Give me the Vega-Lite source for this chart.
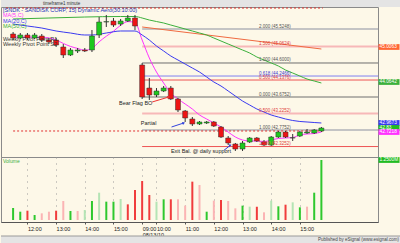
{
"$schema":"https://vega.github.io/schema/vega-lite/v6.json",
"background":"#fdf8e8",
"padding":0,
"spacing":0,
"bounds":"flush",
"resolve":{"scale":{"color":"independent","fill":"independent","stroke":"independent"}},
"config":{
 "font":"Liberation Sans",
 "view":{"stroke":null},
 "axis":{"labelFont":"Liberation Sans","labelColor":"#222","labelFontSize":5.5,"domainColor":"#555","tickColor":"#555","gridColor":"#9a9a9a","gridDash":[1,5],"gridWidth":1,"title":null}
},
"datasets":{
 "bars":[
  {"i":0,"time":"08/12 11:30","open":45.392,"high":45.446,"low":45.228,"close":45.283,"volume":250000,"tone":"up"},
  {"i":1,"time":"08/12 11:45","open":45.283,"high":45.419,"low":45.256,"close":45.365,"volume":173000,"tone":"up"},
  {"i":2,"time":"08/12 12:00","open":45.365,"high":45.419,"low":45.228,"close":45.283,"volume":194000,"tone":"down"},
  {"i":3,"time":"08/12 12:15","open":45.283,"high":45.419,"low":45.256,"close":45.365,"volume":104000,"tone":"up"},
  {"i":4,"time":"08/12 12:30","open":45.337,"high":45.392,"low":45.174,"close":45.228,"volume":139000,"tone":"down-light"},
  {"i":5,"time":"08/12 12:45","open":45.228,"high":45.283,"low":45.119,"close":45.174,"volume":173000,"tone":"down-light"},
  {"i":6,"time":"08/12 13:00","open":45.228,"high":45.283,"low":45.038,"close":45.092,"volume":194000,"tone":"down"},
  {"i":7,"time":"08/12 13:15","open":45.038,"high":45.119,"low":44.738,"close":44.820,"volume":396000,"tone":"down-light"},
  {"i":8,"time":"08/12 13:30","open":44.820,"high":45.010,"low":44.792,"close":44.956,"volume":188000,"tone":"up"},
  {"i":9,"time":"08/12 13:45","open":44.929,"high":45.010,"low":44.874,"close":44.956,"volume":188000,"tone":"down-light"},
  {"i":10,"time":"08/12 14:00","open":44.956,"high":45.010,"low":44.901,"close":44.929,"volume":208000,"tone":"up-light"},
  {"i":11,"time":"08/12 14:15","open":44.956,"high":45.501,"low":44.901,"close":45.337,"volume":396000,"tone":"up"},
  {"i":12,"time":"08/12 14:30","open":45.365,"high":45.855,"low":45.283,"close":45.719,"volume":569000,"tone":"up-light"},
  {"i":13,"time":"08/12 14:45","open":45.719,"high":45.910,"low":45.583,"close":45.729,"volume":382000,"tone":"up"},
  {"i":14,"time":"08/12 15:00","open":45.746,"high":45.828,"low":45.583,"close":45.637,"volume":382000,"tone":"up"},
  {"i":15,"time":"08/12 15:15","open":45.664,"high":45.801,"low":45.610,"close":45.746,"volume":438000,"tone":"up-light"},
  {"i":16,"time":"08/12 15:30","open":45.746,"high":45.910,"low":45.719,"close":45.828,"volume":326000,"tone":"down"},
  {"i":17,"time":"08/12 15:45","open":45.828,"high":45.910,"low":45.501,"close":45.610,"volume":625000,"tone":"down"},
  {"i":18,"time":"08/13 09:30","open":44.547,"high":44.602,"low":43.621,"close":43.675,"volume":812000,"tone":"down"},
  {"i":19,"time":"08/13 09:45","open":43.920,"high":44.193,"low":43.594,"close":43.730,"volume":521000,"tone":"down"},
  {"i":20,"time":"08/13 10:00","open":43.730,"high":43.920,"low":43.675,"close":43.839,"volume":382000,"tone":"up-light"},
  {"i":21,"time":"08/13 10:15","open":43.839,"high":43.975,"low":43.811,"close":43.920,"volume":431000,"tone":"up"},
  {"i":22,"time":"08/13 10:30","open":43.920,"high":43.975,"low":43.594,"close":43.621,"volume":431000,"tone":"down"},
  {"i":23,"time":"08/13 10:45","open":43.621,"high":43.648,"low":43.266,"close":43.321,"volume":431000,"tone":"down-light"},
  {"i":24,"time":"08/13 11:00","open":43.294,"high":43.321,"low":42.994,"close":43.103,"volume":300000,"tone":"down-light"},
  {"i":25,"time":"08/13 11:15","open":43.076,"high":43.130,"low":42.885,"close":42.939,"volume":799000,"tone":"down"},
  {"i":26,"time":"08/13 11:30","open":42.939,"high":43.021,"low":42.912,"close":42.994,"volume":729000,"tone":"down-light"},
  {"i":27,"time":"08/13 11:45","open":42.967,"high":43.021,"low":42.939,"close":42.994,"volume":173000,"tone":"up"},
  {"i":28,"time":"08/13 12:00","open":42.994,"high":43.021,"low":42.858,"close":42.885,"volume":403000,"tone":"down-light"},
  {"i":29,"time":"08/13 12:15","open":42.858,"high":42.885,"low":42.558,"close":42.585,"volume":417000,"tone":"down"},
  {"i":30,"time":"08/13 12:30","open":42.558,"high":42.612,"low":42.367,"close":42.422,"volume":396000,"tone":"down-light"},
  {"i":31,"time":"08/13 12:45","open":42.394,"high":42.422,"low":42.204,"close":42.258,"volume":243000,"tone":"down-light"},
  {"i":32,"time":"08/13 13:00","open":42.258,"high":42.476,"low":42.204,"close":42.422,"volume":299000,"tone":"up"},
  {"i":33,"time":"08/13 13:15","open":42.449,"high":42.585,"low":42.422,"close":42.558,"volume":278000,"tone":"up-light"},
  {"i":34,"time":"08/13 13:30","open":42.558,"high":42.585,"low":42.449,"close":42.476,"volume":278000,"tone":"down"},
  {"i":35,"time":"08/13 13:45","open":42.449,"high":42.503,"low":42.340,"close":42.367,"volume":160000,"tone":"down-light"},
  {"i":36,"time":"08/13 14:00","open":42.367,"high":42.612,"low":42.340,"close":42.585,"volume":403000,"tone":"up-light"},
  {"i":37,"time":"08/13 14:15","open":42.585,"high":42.749,"low":42.558,"close":42.721,"volume":285000,"tone":"up"},
  {"i":38,"time":"08/13 14:30","open":42.721,"high":42.749,"low":42.558,"close":42.585,"volume":319000,"tone":"down"},
  {"i":39,"time":"08/13 14:45","open":42.558,"high":42.667,"low":42.476,"close":42.565,"volume":368000,"tone":"up-light"},
  {"i":40,"time":"08/13 15:00","open":42.612,"high":42.749,"low":42.585,"close":42.721,"volume":264000,"tone":"up"},
  {"i":41,"time":"08/13 15:15","open":42.694,"high":42.803,"low":42.667,"close":42.721,"volume":278000,"tone":"down-light"},
  {"i":42,"time":"08/13 15:30","open":42.694,"high":42.803,"low":42.667,"close":42.776,"volume":569000,"tone":"up"},
  {"i":43,"time":"08/13 15:45","open":42.749,"high":42.858,"low":42.721,"close":42.830,"volume":1250000,"tone":"up"}
 ],
 "ma":[
  {"ma":"MA(5,C)","i":0,"price":45.31},{"ma":"MA(5,C)","i":4,"price":45.304},{"ma":"MA(5,C)","i":5,"price":45.283},{"ma":"MA(5,C)","i":6,"price":45.228},{"ma":"MA(5,C)","i":7,"price":45.135},{"ma":"MA(5,C)","i":8,"price":45.054},{"ma":"MA(5,C)","i":9,"price":44.999},{"ma":"MA(5,C)","i":10,"price":44.95},{"ma":"MA(5,C)","i":11,"price":44.999},{"ma":"MA(5,C)","i":12,"price":45.179},{"ma":"MA(5,C)","i":13,"price":45.332},{"ma":"MA(5,C)","i":14,"price":45.468},{"ma":"MA(5,C)","i":15,"price":45.631},{"ma":"MA(5,C)","i":16,"price":45.73},{"ma":"MA(5,C)","i":17,"price":45.708},{"ma":"MA(5,C)","i":18,"price":45.228},{"ma":"MA(5,C)","i":19,"price":44.738},{"ma":"MA(5,C)","i":20,"price":44.356},{"ma":"MA(5,C)","i":21,"price":44.057},{"ma":"MA(5,C)","i":22,"price":43.784},{"ma":"MA(5,C)","i":23,"price":43.621},{"ma":"MA(5,C)","i":24,"price":43.485},{"ma":"MA(5,C)","i":25,"price":43.348},{"ma":"MA(5,C)","i":26,"price":43.185},{"ma":"MA(5,C)","i":27,"price":43.076},{"ma":"MA(5,C)","i":28,"price":42.967},{"ma":"MA(5,C)","i":29,"price":42.858},{"ma":"MA(5,C)","i":30,"price":42.721},{"ma":"MA(5,C)","i":31,"price":42.585},{"ma":"MA(5,C)","i":32,"price":42.503},{"ma":"MA(5,C)","i":33,"price":42.476},{"ma":"MA(5,C)","i":34,"price":42.476},{"ma":"MA(5,C)","i":35,"price":42.462},{"ma":"MA(5,C)","i":36,"price":42.503},{"ma":"MA(5,C)","i":37,"price":42.544},{"ma":"MA(5,C)","i":38,"price":42.558},{"ma":"MA(5,C)","i":39,"price":42.571},{"ma":"MA(5,C)","i":40,"price":42.64},{"ma":"MA(5,C)","i":41,"price":42.667},{"ma":"MA(5,C)","i":42,"price":42.68},{"ma":"MA(5,C)","i":43,"price":42.721},
  {"ma":"MA(20,C)","i":0,"price":45.664},{"ma":"MA(20,C)","i":2,"price":45.61},{"ma":"MA(20,C)","i":4,"price":45.555},{"ma":"MA(20,C)","i":6,"price":45.474},{"ma":"MA(20,C)","i":8,"price":45.419},{"ma":"MA(20,C)","i":10,"price":45.365},{"ma":"MA(20,C)","i":11,"price":45.365},{"ma":"MA(20,C)","i":13,"price":45.419},{"ma":"MA(20,C)","i":15,"price":45.474},{"ma":"MA(20,C)","i":17,"price":45.474},{"ma":"MA(20,C)","i":18,"price":45.365},{"ma":"MA(20,C)","i":19,"price":45.228},{"ma":"MA(20,C)","i":20,"price":45.065},{"ma":"MA(20,C)","i":21,"price":44.929},{"ma":"MA(20,C)","i":22,"price":44.792},{"ma":"MA(20,C)","i":23,"price":44.683},{"ma":"MA(20,C)","i":24,"price":44.574},{"ma":"MA(20,C)","i":25,"price":44.465},{"ma":"MA(20,C)","i":26,"price":44.356},{"ma":"MA(20,C)","i":27,"price":44.22},{"ma":"MA(20,C)","i":28,"price":44.084},{"ma":"MA(20,C)","i":29,"price":43.975},{"ma":"MA(20,C)","i":30,"price":43.839},{"ma":"MA(20,C)","i":31,"price":43.702},{"ma":"MA(20,C)","i":32,"price":43.566},{"ma":"MA(20,C)","i":33,"price":43.457},{"ma":"MA(20,C)","i":34,"price":43.348},{"ma":"MA(20,C)","i":35,"price":43.266},{"ma":"MA(20,C)","i":36,"price":43.185},{"ma":"MA(20,C)","i":37,"price":43.13},{"ma":"MA(20,C)","i":38,"price":43.076},{"ma":"MA(20,C)","i":39,"price":43.035},{"ma":"MA(20,C)","i":40,"price":43.008},{"ma":"MA(20,C)","i":41,"price":42.994},{"ma":"MA(20,C)","i":42,"price":42.98},{"ma":"MA(20,C)","i":43,"price":42.967},
  {"ma":"MA(50,C)","i":0,"price":45.801},{"ma":"MA(50,C)","i":5,"price":45.828},{"ma":"MA(50,C)","i":10,"price":45.855},{"ma":"MA(50,C)","i":15,"price":45.869},{"ma":"MA(50,C)","i":17,"price":45.869},{"ma":"MA(50,C)","i":18,"price":45.828},{"ma":"MA(50,C)","i":19,"price":45.773},{"ma":"MA(50,C)","i":20,"price":45.732},{"ma":"MA(50,C)","i":21,"price":45.692},{"ma":"MA(50,C)","i":22,"price":45.637},{"ma":"MA(50,C)","i":23,"price":45.583},{"ma":"MA(50,C)","i":24,"price":45.528},{"ma":"MA(50,C)","i":25,"price":45.474},{"ma":"MA(50,C)","i":26,"price":45.419},{"ma":"MA(50,C)","i":27,"price":45.365},{"ma":"MA(50,C)","i":28,"price":45.283},{"ma":"MA(50,C)","i":29,"price":45.201},{"ma":"MA(50,C)","i":30,"price":45.119},{"ma":"MA(50,C)","i":31,"price":45.038},{"ma":"MA(50,C)","i":32,"price":44.956},{"ma":"MA(50,C)","i":33,"price":44.874},{"ma":"MA(50,C)","i":34,"price":44.765},{"ma":"MA(50,C)","i":35,"price":44.683},{"ma":"MA(50,C)","i":36,"price":44.602},{"ma":"MA(50,C)","i":37,"price":44.52},{"ma":"MA(50,C)","i":38,"price":44.411},{"ma":"MA(50,C)","i":39,"price":44.329},{"ma":"MA(50,C)","i":40,"price":44.247},{"ma":"MA(50,C)","i":41,"price":44.165},{"ma":"MA(50,C)","i":42,"price":44.111},{"ma":"MA(50,C)","i":43,"price":44.057}
 ],
 "fib":[
  {"key":"upper 2.000","label":"2.000 (45.5248)","price":45.528,"i":18,"i2":51},
  {"key":"upper 1.500","label":"1.500 (45.0624)","price":45.05,"i":18,"i2":51},
  {"key":"upper 1.000","label":"1.000 (44.6000)","price":44.602,"i":18,"i2":51},
  {"key":"upper 0.618","label":"0.618 (44.2466)","price":44.247,"i":18,"i2":51},
  {"key":"upper 0.500","label":"0.500 (44.1376)","price":44.138,"i":18,"i2":51},
  {"key":"0.000","label":"0.000 (43.6752)","price":43.6752,"i":18,"i2":51},
  {"key":"lower 0.500","label":"0.500 (43.2252)","price":43.2252,"i":18,"i2":51},
  {"key":"lower 1.000","label":"1.000 (42.7752)","price":42.7752,"i":18,"i2":51},
  {"key":"lower 1.500","label":"1.500 (42.3252)","price":42.3252,"i":18,"i2":51}
 ],
 "pivots":[
  {"name":"Weekly Pivot Point R1","price":46.1,"i":-0.99,"i2":43.2},
  {"name":"Weekly Pivot Point S2","price":42.749,"i":0,"i2":43.2}
 ],
 "trend":[{"i":18,"price":45.583,"i2":43,"price2":44.983}],
 "notes":[
  {"note":"Bear Flag BO","i":17.1,"price":43.512,"ai":19.4,"ap":43.539,"hi":21.7,"hp":43.675},
  {"note":"Partial","i":18.9,"price":42.967,"ai":22.1,"ap":42.858,"hi":23.8,"hp":42.967},
  {"note":"Exit Bal. @ daily support","i":26.2,"price":42.19,"ai":29.4,"ap":42.22,"hi":30.3,"hp":42.36}
 ],
 "legend":[
  {"series":"SNDK","text":"[SNDK - SANDISK CORP, 15] Dynamic Aero(30:10:00)","price":46.059},
  {"series":"MA(5,C)","text":"MA(5,C)","price":45.91},
  {"series":"MA(20,C)","text":"MA(20,C)","price":45.76},
  {"series":"MA(50,C)","text":"MA(50,C)","price":45.61},
  {"series":"Weekly Pivot Point R1","text":"Weekly Pivot Point R1","price":45.256},
  {"series":"Weekly Pivot Point S2","text":"Weekly Pivot Point S2","price":45.119}
 ],
 "tags":[
  {"series":"trend","text":"45.0063","price":45.038},
  {"series":"MA(50,C)","text":"44.0642","price":44.084},
  {"series":"MA(20,C)","text":"42.9673","price":42.967},
  {"series":"last","text":"42.83","price":42.83},
  {"series":"MA(5,C)","text":"42.7218","price":42.721}
 ]
},
"vconcat":[
 {
  "width":400,"height":7,
  "view":{"fill":"#e4e4e4","stroke":null},
  "data":{"values":[{"item":"timeframe","pos":0.105},{"item":"1 minute","pos":0.155}]},
  "mark":{"type":"text","fontSize":4.5,"align":"left","baseline":"middle","color":"#333"},
  "encoding":{
   "x":{"field":"pos","type":"quantitative","scale":{"domain":[0,1]},"axis":null},
   "y":{"datum":0.5,"type":"quantitative","scale":{"domain":[0,1]},"axis":null},
   "text":{"field":"item"}
  }
 },
 {
  "width":377,"height":150,
  "view":{"stroke":"#8a8a8a"},
  "layer":[
   {
    "data":{"name":"fib"},
    "transform":[{"filter":"indexof(['upper 2.000','upper 1.500','lower 0.500','lower 1.000'], datum.key) >= 0"}],
    "mark":{"type":"rule","strokeWidth":2,"clip":true},
    "encoding":{
     "x":{"field":"i","type":"quantitative","scale":{"domain":[-0.99,50.2],"nice":false,"zero":false},
          "axis":{"orient":"bottom","values":[2,6,10,14,18,20,24,28,32,36,40],"labels":false,"ticks":false,"domain":false,"grid":true,"minExtent":0,"maxExtent":0}},
     "x2":{"field":"i2"},
     "y":{"field":"price","type":"quantitative","scale":{"domain":[42.04,46.128],"nice":false,"zero":false},
          "axis":{"orient":"right","values":[42.5,43,43.5,44,44.5,45,45.5,46],"format":".2f","tickSize":3,"labelPadding":2,"grid":true,"minExtent":23,"maxExtent":23}},
     "stroke":{"field":"key","type":"nominal","legend":null,
       "scale":{"domain":["upper 2.000","upper 1.500","upper 1.000","upper 0.618","upper 0.500","0.000","lower 0.500","lower 1.000","lower 1.500"],
                "range":["#c4c4c4","#f7b8b8","#6e6e6e","#8080f0","#ee5555","#6e6e6e","#f7b8b8","#c4c4c4","#ee5555"]}}
    }
   },
   {
    "data":{"name":"fib"},
    "transform":[{"filter":"indexof(['upper 2.000','upper 1.500','lower 0.500','lower 1.000'], datum.key) < 0"}],
    "mark":{"type":"rule","strokeWidth":1,"clip":true},
    "encoding":{
     "x":{"field":"i","type":"quantitative","scale":{"domain":[-0.99,50.2],"nice":false,"zero":false},"axis":null},
     "x2":{"field":"i2"},
     "y":{"field":"price","type":"quantitative","scale":{"domain":[42.04,46.128],"nice":false,"zero":false},"axis":null},
     "stroke":{"field":"key","type":"nominal","legend":null}
    }
   },
   {
    "data":{"name":"pivots"},
    "mark":{"type":"rule","strokeWidth":1,"strokeDash":[2,2],"color":"#e03030"},
    "encoding":{
     "x":{"field":"i","type":"quantitative","scale":{"domain":[-0.99,50.2],"nice":false,"zero":false},"axis":null},
     "x2":{"field":"i2"},
     "y":{"field":"price","type":"quantitative","scale":{"domain":[42.04,46.128],"nice":false,"zero":false},"axis":null}
    }
   },
   {
    "data":{"name":"trend"},
    "mark":{"type":"rule","strokeWidth":1,"color":"#f06a40"},
    "encoding":{
     "x":{"field":"i","type":"quantitative","scale":{"domain":[-0.99,50.2],"nice":false,"zero":false},"axis":null},
     "x2":{"field":"i2"},
     "y":{"field":"price","type":"quantitative","scale":{"domain":[42.04,46.128],"nice":false,"zero":false},"axis":null},
     "y2":{"field":"price2"}
    }
   },
   {
    "data":{"name":"ma"},
    "mark":{"type":"line","strokeWidth":1,"interpolate":"monotone"},
    "encoding":{
     "x":{"field":"i","type":"quantitative","scale":{"domain":[-0.99,50.2],"nice":false,"zero":false},"axis":null},
     "y":{"field":"price","type":"quantitative","scale":{"domain":[42.04,46.128],"nice":false,"zero":false},"axis":null},
     "color":{"field":"ma","type":"nominal","legend":null,
       "scale":{"domain":["MA(5,C)","MA(20,C)","MA(50,C)","SNDK","Weekly Pivot Point R1","Weekly Pivot Point S2","trend","last"],
                "range":["#ff33ff","#3a3af0","#3cb03c","#2233bb","#333333","#333333","#ff6633","#22bb22"]}},
     "detail":{"field":"ma"}
    }
   },
   {
    "data":{"name":"bars"},
    "mark":{"type":"rule","strokeWidth":1,"color":"#333"},
    "encoding":{
     "x":{"field":"i","type":"quantitative","scale":{"domain":[-0.99,50.2],"nice":false,"zero":false},"axis":null},
     "y":{"field":"low","type":"quantitative","scale":{"domain":[42.04,46.128],"nice":false,"zero":false},"axis":null},
     "y2":{"field":"high"}
    }
   },
   {
    "data":{"name":"bars"},
    "mark":{"type":"bar","size":5,"stroke":"#333","strokeWidth":0.5},
    "encoding":{
     "x":{"field":"i","type":"quantitative","scale":{"domain":[-0.99,50.2],"nice":false,"zero":false},"axis":null},
     "y":{"field":"open","type":"quantitative","scale":{"domain":[42.04,46.128],"nice":false,"zero":false},"axis":null},
     "y2":{"field":"close"},
     "fill":{"condition":{"test":"datum.close >= datum.open","value":"#1ec81e"},"value":"#ee1414"}
    }
   },
   {
    "data":{"name":"fib"},
    "mark":{"type":"text","fontSize":4.5,"align":"left","baseline":"bottom","dy":-0.5,"dx":-119},
    "encoding":{
     "x":{"value":"width"},
     "y":{"field":"price","type":"quantitative","scale":{"domain":[42.04,46.128],"nice":false,"zero":false},"axis":null},
     "text":{"field":"label"},
     "fill":{"field":"key","type":"nominal","legend":null,
       "scale":{"domain":["upper 2.000","upper 1.500","upper 1.000","upper 0.618","upper 0.500","0.000","lower 0.500","lower 1.000","lower 1.500"],
                "range":["#555555","#e04040","#555555","#4040d0","#e04040","#555555","#e04040","#555555","#e04040"]}}
    }
   },
   {
    "data":{"name":"notes"},
    "mark":{"type":"text","fontSize":5.5,"align":"center","baseline":"middle","color":"#222"},
    "encoding":{
     "x":{"field":"i","type":"quantitative","scale":{"domain":[-0.99,50.2],"nice":false,"zero":false},"axis":null},
     "y":{"field":"price","type":"quantitative","scale":{"domain":[42.04,46.128],"nice":false,"zero":false},"axis":null},
     "text":{"field":"note"}
    }
   },
   {
    "data":{"name":"notes"},
    "mark":{"type":"rule","strokeWidth":1},
    "encoding":{
     "x":{"field":"ai","type":"quantitative","scale":{"domain":[-0.99,50.2],"nice":false,"zero":false},"axis":null},
     "x2":{"field":"hi"},
     "y":{"field":"ap","type":"quantitative","scale":{"domain":[42.04,46.128],"nice":false,"zero":false},"axis":null},
     "y2":{"field":"hp"},
     "stroke":{"condition":{"test":"datum.note == 'Bear Flag BO'","value":"#ee3333"},"value":"#3344dd"}
    }
   },
   {
    "data":{"name":"notes"},
    "mark":{"type":"point","shape":"triangle-up","size":10,"filled":true,"angle":70},
    "encoding":{
     "x":{"field":"hi","type":"quantitative","scale":{"domain":[-0.99,50.2],"nice":false,"zero":false},"axis":null},
     "y":{"field":"hp","type":"quantitative","scale":{"domain":[42.04,46.128],"nice":false,"zero":false},"axis":null},
     "fill":{"condition":{"test":"datum.note == 'Bear Flag BO'","value":"#ee3333"},"value":"#3344dd"},
     "opacity":{"value":1}
    }
   },
   {
    "data":{"name":"legend"},
    "mark":{"type":"text","fontSize":5.5,"align":"left","baseline":"middle","dx":2},
    "encoding":{
     "x":{"value":0},
     "y":{"field":"price","type":"quantitative","scale":{"domain":[42.04,46.128],"nice":false,"zero":false},"axis":null},
     "text":{"field":"text"},
     "color":{"field":"series","type":"nominal","legend":null}
    }
   },
   {
    "data":{"name":"tags"},
    "mark":{"type":"point","shape":"M-4,-1.1L4,-1.1L4,1.1L-4,1.1Z","size":27.6,"filled":true,"opacity":1,"xOffset":11},
    "encoding":{
     "x":{"value":"width"},
     "y":{"field":"price","type":"quantitative","scale":{"domain":[42.04,46.128],"nice":false,"zero":false},"axis":null},
     "color":{"field":"series","type":"nominal","legend":null}
    }
   },
   {
    "data":{"name":"tags"},
    "mark":{"type":"text","fontSize":4.8,"align":"left","baseline":"middle","color":"#ffffff","dx":1.5},
    "encoding":{
     "x":{"value":"width"},
     "y":{"field":"price","type":"quantitative","scale":{"domain":[42.04,46.128],"nice":false,"zero":false},"axis":null},
     "text":{"field":"text"}
    }
   }
  ]
 },
 {
  "width":377,"height":65,
  "view":{"stroke":"#8a8a8a"},
  "layer":[
   {
    "data":{"name":"bars"},
    "mark":{"type":"bar","size":2},
    "encoding":{
     "x":{"field":"i","type":"quantitative","scale":{"domain":[-0.99,50.2],"nice":false,"zero":false},
          "axis":{"orient":"bottom","values":[2,6,10,14,18,20,24,28,32,36,40],"grid":true,"tickSize":2,"labelAlign":"left","labelBaseline":"top","labelPadding":2,"labelFontSize":5.5,"labelLineHeight":6,"labelOverlap":false,"labelFlush":false,
           "labelExpr":"datum.value==2?'12:00':datum.value==6?'13:00':datum.value==10?'14:00':datum.value==14?'15:00':datum.value==18?['09:00','08/13/10']:datum.value==20?'10:00':datum.value==24?'11:00':datum.value==28?'12:00':datum.value==32?'13:00':datum.value==36?'14:00':'15:00'"}},
     "y":{"field":"volume","type":"quantitative","scale":{"domain":[-41700,1312500],"nice":false,"zero":false},
          "axis":{"orient":"right","values":[0,250000,500000,750000,1000000],"tickSize":3,"labelPadding":2,"grid":true,"minExtent":23,"maxExtent":23,
           "labelExpr":"datum.value==0?'0':datum.value==1000000?'1M':(datum.value/1000)+'K'"}},
     "color":{"field":"tone","type":"nominal","legend":null,
       "scale":{"domain":["up","up-light","down","down-light"],"range":["#2ec82e","#b4e4b4","#f03c3c","#fbb4b4"]}}
    }
   },
   {
    "data":{"values":[{"text":"1.2500M","volume":1250000}]},
    "mark":{"type":"point","shape":"M-4,-1.1L4,-1.1L4,1.1L-4,1.1Z","size":27.6,"filled":true,"opacity":1,"color":"#22bb22","xOffset":11},
    "encoding":{
     "x":{"value":"width"},
     "y":{"field":"volume","type":"quantitative","scale":{"domain":[-41700,1312500],"nice":false,"zero":false},"axis":null}
    }
   },
   {
    "data":{"values":[{"text":"1.2500M","volume":1250000}]},
    "mark":{"type":"text","fontSize":4.8,"align":"left","baseline":"middle","color":"#ffffff","dx":1.5},
    "encoding":{
     "x":{"value":"width"},
     "y":{"field":"volume","type":"quantitative","scale":{"domain":[-41700,1312500],"nice":false,"zero":false},"axis":null},
     "text":{"field":"text"}
    }
   },
   {
    "data":{"values":[{"text":"Volume","volume":1220000}]},
    "mark":{"type":"text","fontSize":5,"align":"left","baseline":"middle","color":"#3cb03c","dx":2},
    "encoding":{
     "x":{"value":0},
     "y":{"field":"volume","type":"quantitative","scale":{"domain":[-41700,1312500],"nice":false,"zero":false},"axis":null},
     "text":{"field":"text"}
    }
   }
  ]
 },
 {
  "width":400,"height":21,
  "view":{"stroke":null},
  "data":{"values":[{"item":"Published by eSignal (www.esignal.com)","pos":0.995}]},
  "layer":[
   {
    "mark":{"type":"rect","color":"#e4e4e4"},
    "encoding":{
     "x":{"value":0},
     "x2":{"value":"width"},
     "y":{"datum":0,"type":"quantitative","scale":{"domain":[0,3]},"axis":null},
     "y2":{"datum":1}
    }
   },
   {
    "mark":{"type":"rule","color":"#9a9a9a","strokeWidth":1},
    "encoding":{
     "x":{"value":0},
     "x2":{"value":"width"},
     "y":{"datum":1,"type":"quantitative","scale":{"domain":[0,3]},"axis":null}
    }
   },
   {
    "mark":{"type":"text","fontSize":4.5,"align":"right","baseline":"middle","color":"#444"},
    "encoding":{
     "x":{"field":"pos","type":"quantitative","scale":{"domain":[0,1]},"axis":null},
     "y":{"datum":0.5,"type":"quantitative","scale":{"domain":[0,3]},"axis":null},
     "text":{"field":"item"}
    }
   }
  ]
 }
]
}
